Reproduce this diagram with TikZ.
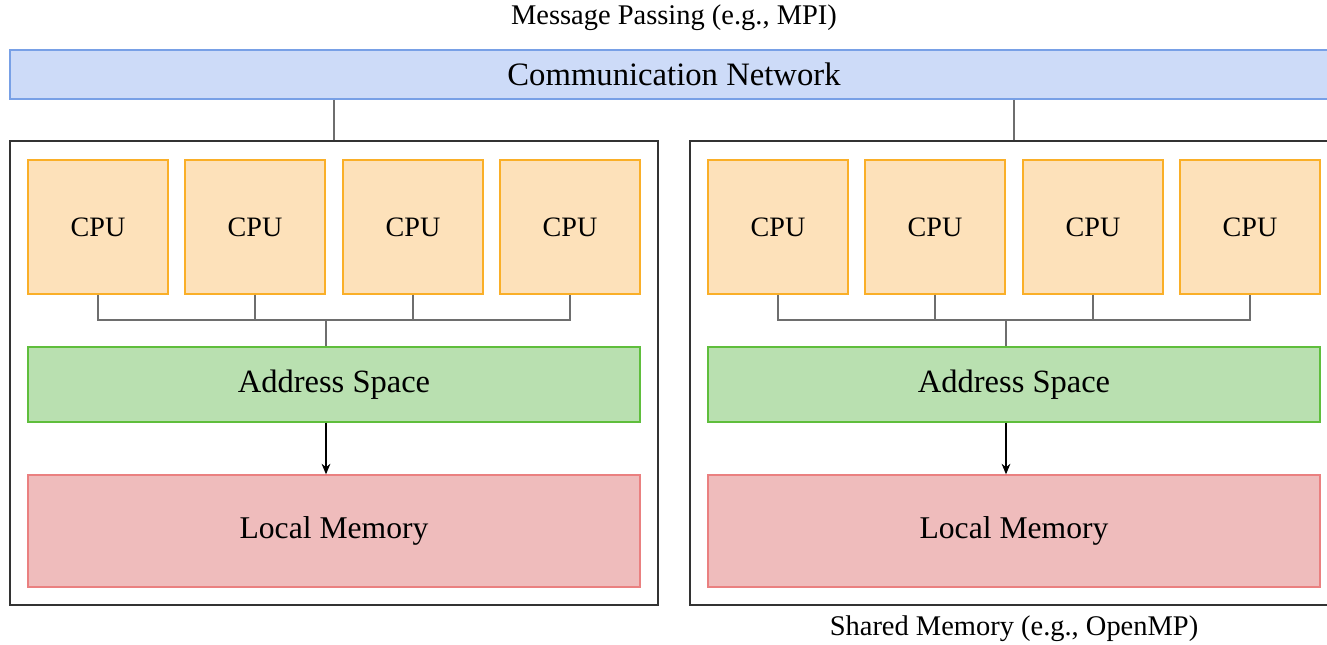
\documentclass[tikz,border=0pt]{standalone}
\usepackage{fontspec}
\setmainfont{Liberation Serif}
\usetikzlibrary{arrows.meta}
\definecolor{netfill}{RGB}{205,219,248}
\definecolor{netline}{RGB}{120,160,230}
\definecolor{cpufill}{RGB}{253,225,186}
\definecolor{cpuline}{RGB}{250,175,40}
\definecolor{addrfill}{RGB}{185,224,176}
\definecolor{addrline}{RGB}{95,190,60}
\definecolor{memfill}{RGB}{239,188,188}
\definecolor{memline}{RGB}{234,128,128}
\definecolor{wire}{RGB}{110,110,110}
\begin{document}
\begin{tikzpicture}[
    cpu/.style={draw=cpuline, fill=cpufill, line width=0.8pt, minimum width=2.8cm, minimum height=2.68cm, font=\fontsize{16}{18}\selectfont},
    addr/.style={draw=addrline, fill=addrfill, line width=0.8pt, minimum width=12.24cm, minimum height=1.5cm, font=\fontsize{18.5}{20}\selectfont},
    mem/.style={draw=memline, fill=memfill, line width=0.8pt, minimum width=12.24cm, minimum height=2.24cm, font=\fontsize{18}{20}\selectfont},
    machine/.style={draw=black!80, line width=1pt, minimum width=12.96cm, minimum height=9.28cm},
    caption/.style={font=\fontsize{16.2}{18}\selectfont},
    wire/.style={draw=wire, line width=0.6pt},
  ]
                \useasboundingbox (0,0) rectangle (26.54,-12.88);

                \node[caption] (mpi) at (13.48,-0.36) {Message Passing (e.g., MPI)};
                \node[draw=netline, fill=netfill, line width=1pt, minimum width=26.56cm, minimum height=0.98cm, font=\fontsize{18.6}{20}\selectfont] (net) at (13.48,-1.49) {Communication Network};

                \node[machine] (boxL) at (6.68,-7.46) {};
                \node[machine] (boxR) at (20.28,-7.46) {};

                \node[cpu] (cpuL1) at (1.96,-4.54) {CPU};
                \node[cpu] (cpuL2) at (5.10,-4.54) {CPU};
                \node[cpu] (cpuL3) at (8.26,-4.54) {CPU};
                \node[cpu] (cpuL4) at (11.40,-4.54) {CPU};
                \node[cpu] (cpuR1) at (15.56,-4.54) {CPU};
                \node[cpu] (cpuR2) at (18.70,-4.54) {CPU};
                \node[cpu] (cpuR3) at (21.86,-4.54) {CPU};
                \node[cpu] (cpuR4) at (25.00,-4.54) {CPU};

                \node[addr] (addrL) at (6.68,-7.69) {Address Space};
                \node[addr] (addrR) at (20.28,-7.69) {Address Space};
                \node[mem] (memL) at (6.68,-10.62) {Local Memory};
                \node[mem] (memR) at (20.28,-10.62) {Local Memory};

                \node[caption] (omp) at (20.28,-12.58) {Shared Memory (e.g., OpenMP)};

                \coordinate (busL) at (6.52,-6.40);
                \coordinate (busR) at (20.12,-6.40);

                \draw[wire] (boxL.north |- net.south) to (boxL.north);
                \draw[wire] (boxR.north |- net.south) to (boxR.north);

                \draw[wire] (cpuL1.south) |- (cpuL4.south |- busL) -- (cpuL4.south);
                \draw[wire] (cpuL2.south) -- (cpuL2.south |- busL);
                \draw[wire] (cpuL3.south) -- (cpuL3.south |- busL);
                \draw[wire] (busL) to (busL |- addrL.north);
                \draw[wire] (cpuR1.south) |- (cpuR4.south |- busR) -- (cpuR4.south);
                \draw[wire] (cpuR2.south) -- (cpuR2.south |- busR);
                \draw[wire] (cpuR3.south) -- (cpuR3.south |- busR);
                \draw[wire] (busR) to (busR |- addrR.north);

                \draw[-{Stealth[length=6pt,width=5pt]}, line width=0.6pt] (busL |- addrL.south) to (busL |- memL.north);
                \draw[-{Stealth[length=6pt,width=5pt]}, line width=0.6pt] (busR |- addrR.south) to (busR |- memR.north);
\end{tikzpicture}
\end{document}
